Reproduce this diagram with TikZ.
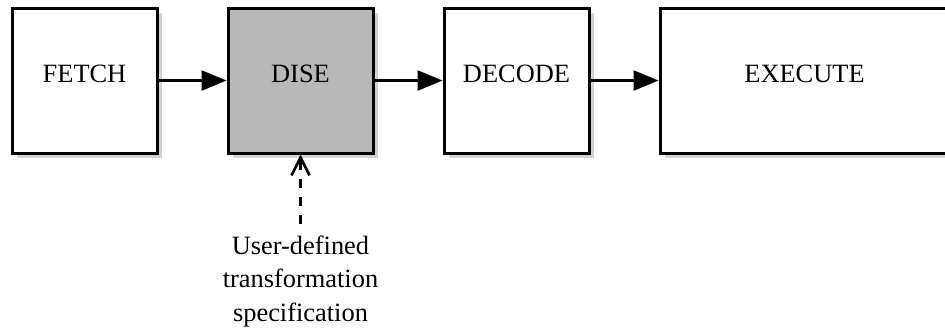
\documentclass[tikz,border=0pt]{standalone}
\usepackage{fontspec}
\setmainfont{Liberation Serif}
\usetikzlibrary{positioning,arrows.meta,shadows}

\begin{document}
\begin{tikzpicture}[
    font=\fontsize{13.2}{16.8}\selectfont,
    node distance=34pt,
    stage/.style={draw, line width=1.5pt, fill=white, minimum width=72.5pt, minimum height=72.5pt,
        text height=9pt, text depth=7.5pt,
        drop shadow={shadow xshift=2.5pt, shadow yshift=-2.5pt, fill=black!25, opacity=0.7}},
    flow/.style={line width=1.2pt, -{Triangle[length=12.5pt, width=10pt]}},
    spec/.style={line width=1.1pt, dash pattern=on 4.5pt off 4.5pt, -{Straight Barb[length=9pt, width=9pt, line width=1.3pt]}}
]
    \path[use as bounding box, clip] (0,0) rectangle (472.5pt,-164.5pt);

    \node[stage] (fetch) at (42.25pt,-40.25pt) {FETCH};
    \node[stage, fill=black!28, right=of fetch] (dise) {DISE};
    \node[stage, right=of dise] (decode) {DECODE};
    \node[stage, right=of decode, minimum width=144.5pt] (execute) {EXECUTE};

    \coordinate[below=34.5pt of dise] (specend);
    \node[below=4.75pt of specend, align=center, inner sep=1pt] (userspec) {User-defined\\transformation\\specification};

    \draw[flow] (fetch) -- (dise);
    \draw[flow] (dise) -- (decode);
    \draw[flow] (decode) -- (execute);
    \draw[spec] (specend) -- (dise);
\end{tikzpicture}
\end{document}
